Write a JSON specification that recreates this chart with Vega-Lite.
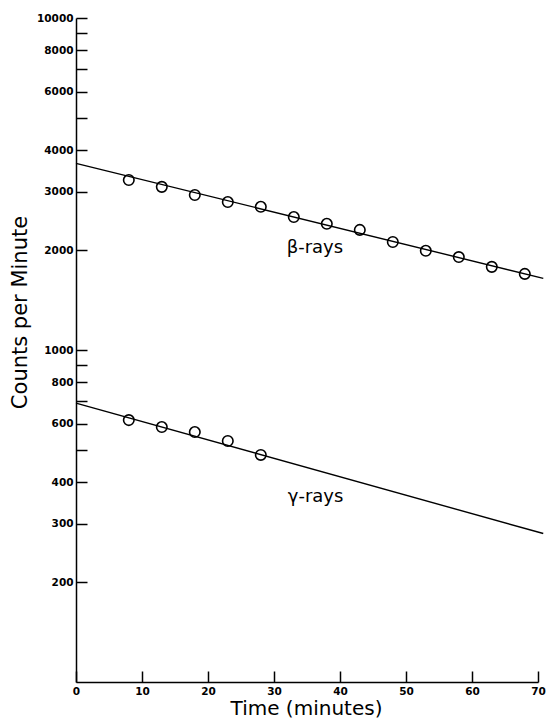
{
  "$schema": "https://vega.github.io/schema/vega-lite/v6.json",
  "width": 462,
  "height": 664,
  "autosize": {"type": "none"},
  "padding": {"left": 76, "top": 18, "right": 8, "bottom": 37},
  "background": "white",
  "config": {
    "view": {"stroke": null},
    "axis": {
      "grid": false,
      "domainColor": "black",
      "domainWidth": 1.5,
      "tickColor": "black",
      "tickWidth": 1.5,
      "tickSize": -11,
      "labelFont": "DejaVu Sans",
      "labelFontWeight": "bold",
      "labelFontSize": 10.5,
      "labelColor": "black",
      "labelFlush": false,
      "labelOverlap": false,
      "titleFont": "DejaVu Sans",
      "titleFontWeight": "normal",
      "titleColor": "black"
    }
  },
  "datasets": {
    "points": [
      {"series": "beta", "time": 8, "counts": 3250},
      {"series": "beta", "time": 13, "counts": 3100},
      {"series": "beta", "time": 18, "counts": 2930},
      {"series": "beta", "time": 23, "counts": 2790},
      {"series": "beta", "time": 28, "counts": 2700},
      {"series": "beta", "time": 33, "counts": 2515},
      {"series": "beta", "time": 38, "counts": 2400},
      {"series": "beta", "time": 43, "counts": 2300},
      {"series": "beta", "time": 48, "counts": 2115},
      {"series": "beta", "time": 53, "counts": 1990},
      {"series": "beta", "time": 58, "counts": 1905},
      {"series": "beta", "time": 63, "counts": 1780},
      {"series": "beta", "time": 68, "counts": 1695},
      {"series": "gamma", "time": 8, "counts": 615},
      {"series": "gamma", "time": 13, "counts": 586},
      {"series": "gamma", "time": 18, "counts": 566},
      {"series": "gamma", "time": 23, "counts": 532},
      {"series": "gamma", "time": 28, "counts": 483}
    ],
    "fits": [
      {"series": "beta", "time": 0, "counts": 3650},
      {"series": "beta", "time": 70.8, "counts": 1643},
      {"series": "gamma", "time": 0, "counts": 692},
      {"series": "gamma", "time": 70.8, "counts": 280}
    ],
    "labels": [
      {"label": "β-rays", "time": 36.2, "counts": 2030},
      {"label": "γ-rays", "time": 36.3, "counts": 361}
    ]
  },
  "encoding": {
    "x": {
      "field": "time",
      "type": "quantitative",
      "scale": {"domain": [0, 70], "nice": false, "zero": false},
      "axis": {
        "values": [0, 10, 20, 30, 40, 50, 60, 70],
        "format": "d",
        "labelPadding": 15,
        "title": "Time (minutes)",
        "titleFontSize": 20,
        "titleX": 230,
        "titleY": 26,
        "titleBaseline": "middle"
      }
    },
    "y": {
      "field": "counts",
      "type": "quantitative",
      "scale": {"type": "log", "domain": [100, 10000], "nice": false},
      "axis": {
        "values": [200, 300, 400, 500, 600, 700, 800, 900, 1000, 2000, 3000, 4000, 5000, 6000, 7000, 8000, 9000, 10000],
        "format": "d",
        "labelExpr": "indexof([500, 700, 900, 5000, 7000, 9000], datum.value) >= 0 ? '' : datum.label",
        "labelPadding": 14,
        "title": "Counts per Minute",
        "titleFontSize": 21,
        "titleX": -56,
        "titleY": 294,
        "titleBaseline": "middle"
      }
    }
  },
  "layer": [
    {
      "data": {"name": "fits"},
      "mark": {"type": "line", "color": "black", "strokeWidth": 1.4, "clip": false},
      "encoding": {"detail": {"field": "series"}}
    },
    {
      "data": {"name": "points"},
      "mark": {"type": "point", "shape": "circle", "filled": false, "color": "black", "size": 110, "strokeWidth": 1.6, "opacity": 1},
      "encoding": {}
    },
    {
      "data": {"name": "labels"},
      "mark": {"type": "text", "font": "DejaVu Sans", "fontSize": 18, "color": "black", "baseline": "middle", "align": "center"},
      "encoding": {"text": {"field": "label"}}
    }
  ]
}
